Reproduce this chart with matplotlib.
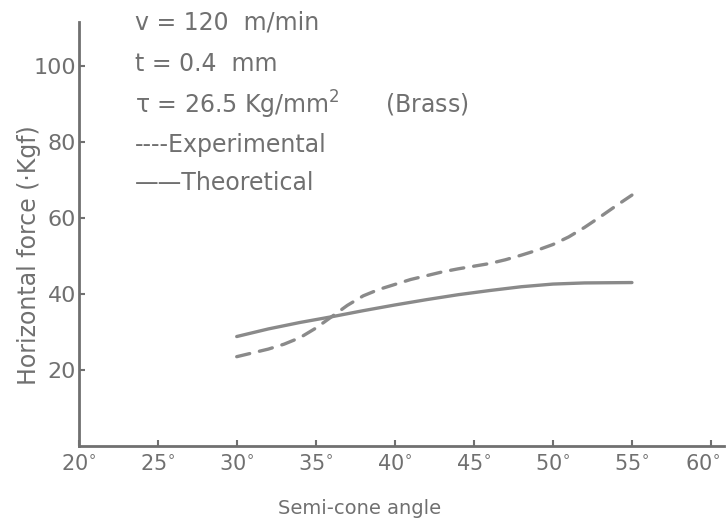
import matplotlib.pyplot as plt
from matplotlib.transforms import ScaledTranslation

# values
angle_exp = [30, 31, 32, 33, 34, 35, 36, 37, 38, 39, 40, 41, 42, 43, 44, 45,
             46, 47, 48, 49, 50, 51, 52, 53, 54, 55]
force_exp = [23.5, 24.5, 25.5, 26.8, 28.5, 31.0, 34.0, 37.0, 39.5, 41.2, 42.5,
             43.8, 44.8, 45.8, 46.6, 47.3, 48.0, 49.0, 50.2, 51.5, 53.0, 55.0,
             57.5, 60.3, 63.2, 66.0]

angle_th = [30, 32, 34, 36, 38, 40, 42, 44, 46, 48, 50, 52, 55]
force_th = [28.8, 30.8, 32.5, 34.0, 35.6, 37.1, 38.5, 39.8, 40.9, 41.9, 42.6,
            42.9, 43.0]

xticks = [20, 25, 30, 35, 40, 45, 50, 55, 60]
yticks = [20, 40, 60, 80, 100]

grey = "#707070"
line_grey = "#8a8a8a"

fig = plt.figure(figsize=(7.28, 5.26), dpi=100)
ax = fig.add_axes([0.108, 0.152, 0.886, 0.806])

ax.plot(angle_exp, force_exp, color=line_grey, lw=2.4, dashes=(4, 3),
        solid_capstyle="round", dash_capstyle="round")
ax.plot(angle_th, force_th, color=line_grey, lw=2.4, solid_capstyle="round")

ax.set_xlim(20, 60.8)
ax.set_ylim(0, 111.5)

ax.spines["top"].set_visible(False)
ax.spines["right"].set_visible(False)
for s in ["left", "bottom"]:
    ax.spines[s].set_color(grey)
    ax.spines[s].set_linewidth(2)

ax.set_xticks(xticks)
ax.set_xticklabels([f"{x}$^{{\\circ}}$" for x in xticks])
ax.set_yticks(yticks)
ax.set_yticklabels([str(y) for y in yticks])
ax.tick_params(axis="both", colors=grey, labelcolor=grey, labelsize=16,
               direction="in", length=4, width=1.5)
ax.tick_params(axis="x", pad=6, labelsize=15)
ax.tick_params(axis="y", pad=2)

# keep the last x label inside the picture
last = ax.get_xticklabels()[-1]
last.set_transform(last.get_transform() + ScaledTranslation(-6 / 72, 0, fig.dpi_scale_trans))

ax.set_xlabel("Semi-cone angle", fontsize=14, color=grey)
ax.xaxis.set_label_coords(0.436, -0.125)
ax.set_ylabel("Horizontal force (·Kgf)", fontsize=17, color=grey)
ax.yaxis.set_label_coords(-0.058, 0.45)

# annotations and hand-written legend
notes = ["v = 120  m/min", "t = 0.4  mm", "τ = 26.5 Kg/mm$^2$      (Brass)",
         "----Experimental", "——Theoretical"]
note_y = [1.0, 0.901, 0.804, 0.71, 0.62]
for txt, yy in zip(notes, note_y):
    ax.text(0.087, yy, txt, transform=ax.transAxes, fontsize=17,
            color=grey, va="center")

fig.savefig("out.png", dpi=100)
